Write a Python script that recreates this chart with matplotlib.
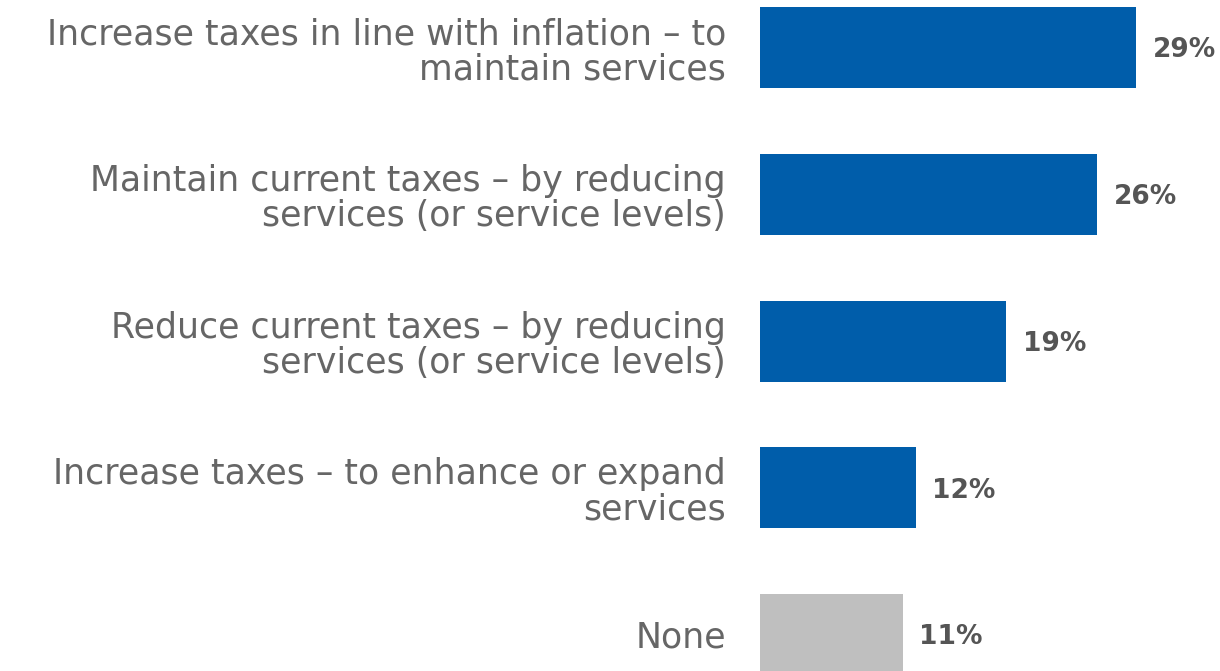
import matplotlib
matplotlib.use("Agg")
import matplotlib.pyplot as plt

categories = [
    "Increase taxes in line with inflation – to\nmaintain services",
    "Maintain current taxes – by reducing\nservices (or service levels)",
    "Reduce current taxes – by reducing\nservices (or service levels)",
    "Increase taxes – to enhance or expand\nservices",
    "None",
]
values = [29, 26, 19, 12, 11]
colors = ["#005DAA", "#005DAA", "#005DAA", "#005DAA", "#BFBFBF"]

fig = plt.figure(figsize=(12.2, 6.71), dpi=100)
ax = fig.add_axes([760 / 1220, 0.0, 1 - 760 / 1220, 1.0])

pos = list(range(len(categories)))
ax.barh(pos, values, height=0.552, color=colors)
ax.set_ylim(4.249, -0.324)
ax.set_xlim(0, 35.47)

ax.set_yticks(pos)
ax.set_yticklabels(categories, fontsize=25, color="#666666", linespacing=1.06,
                   family=["DejaVu Sans"], fontweight="normal")
ax.tick_params(axis="y", length=0, pad=24.5)
ax.set_xticks([])
for s in ax.spines.values():
    s.set_visible(False)

for p, v in zip(pos, values):
    ax.annotate(f"{v}%", xy=(v, p), xytext=(12, -2), textcoords="offset points",
                va="center", ha="left", fontsize=19, fontweight="bold", color="#555555")

fig.savefig("out.png", dpi=100)
